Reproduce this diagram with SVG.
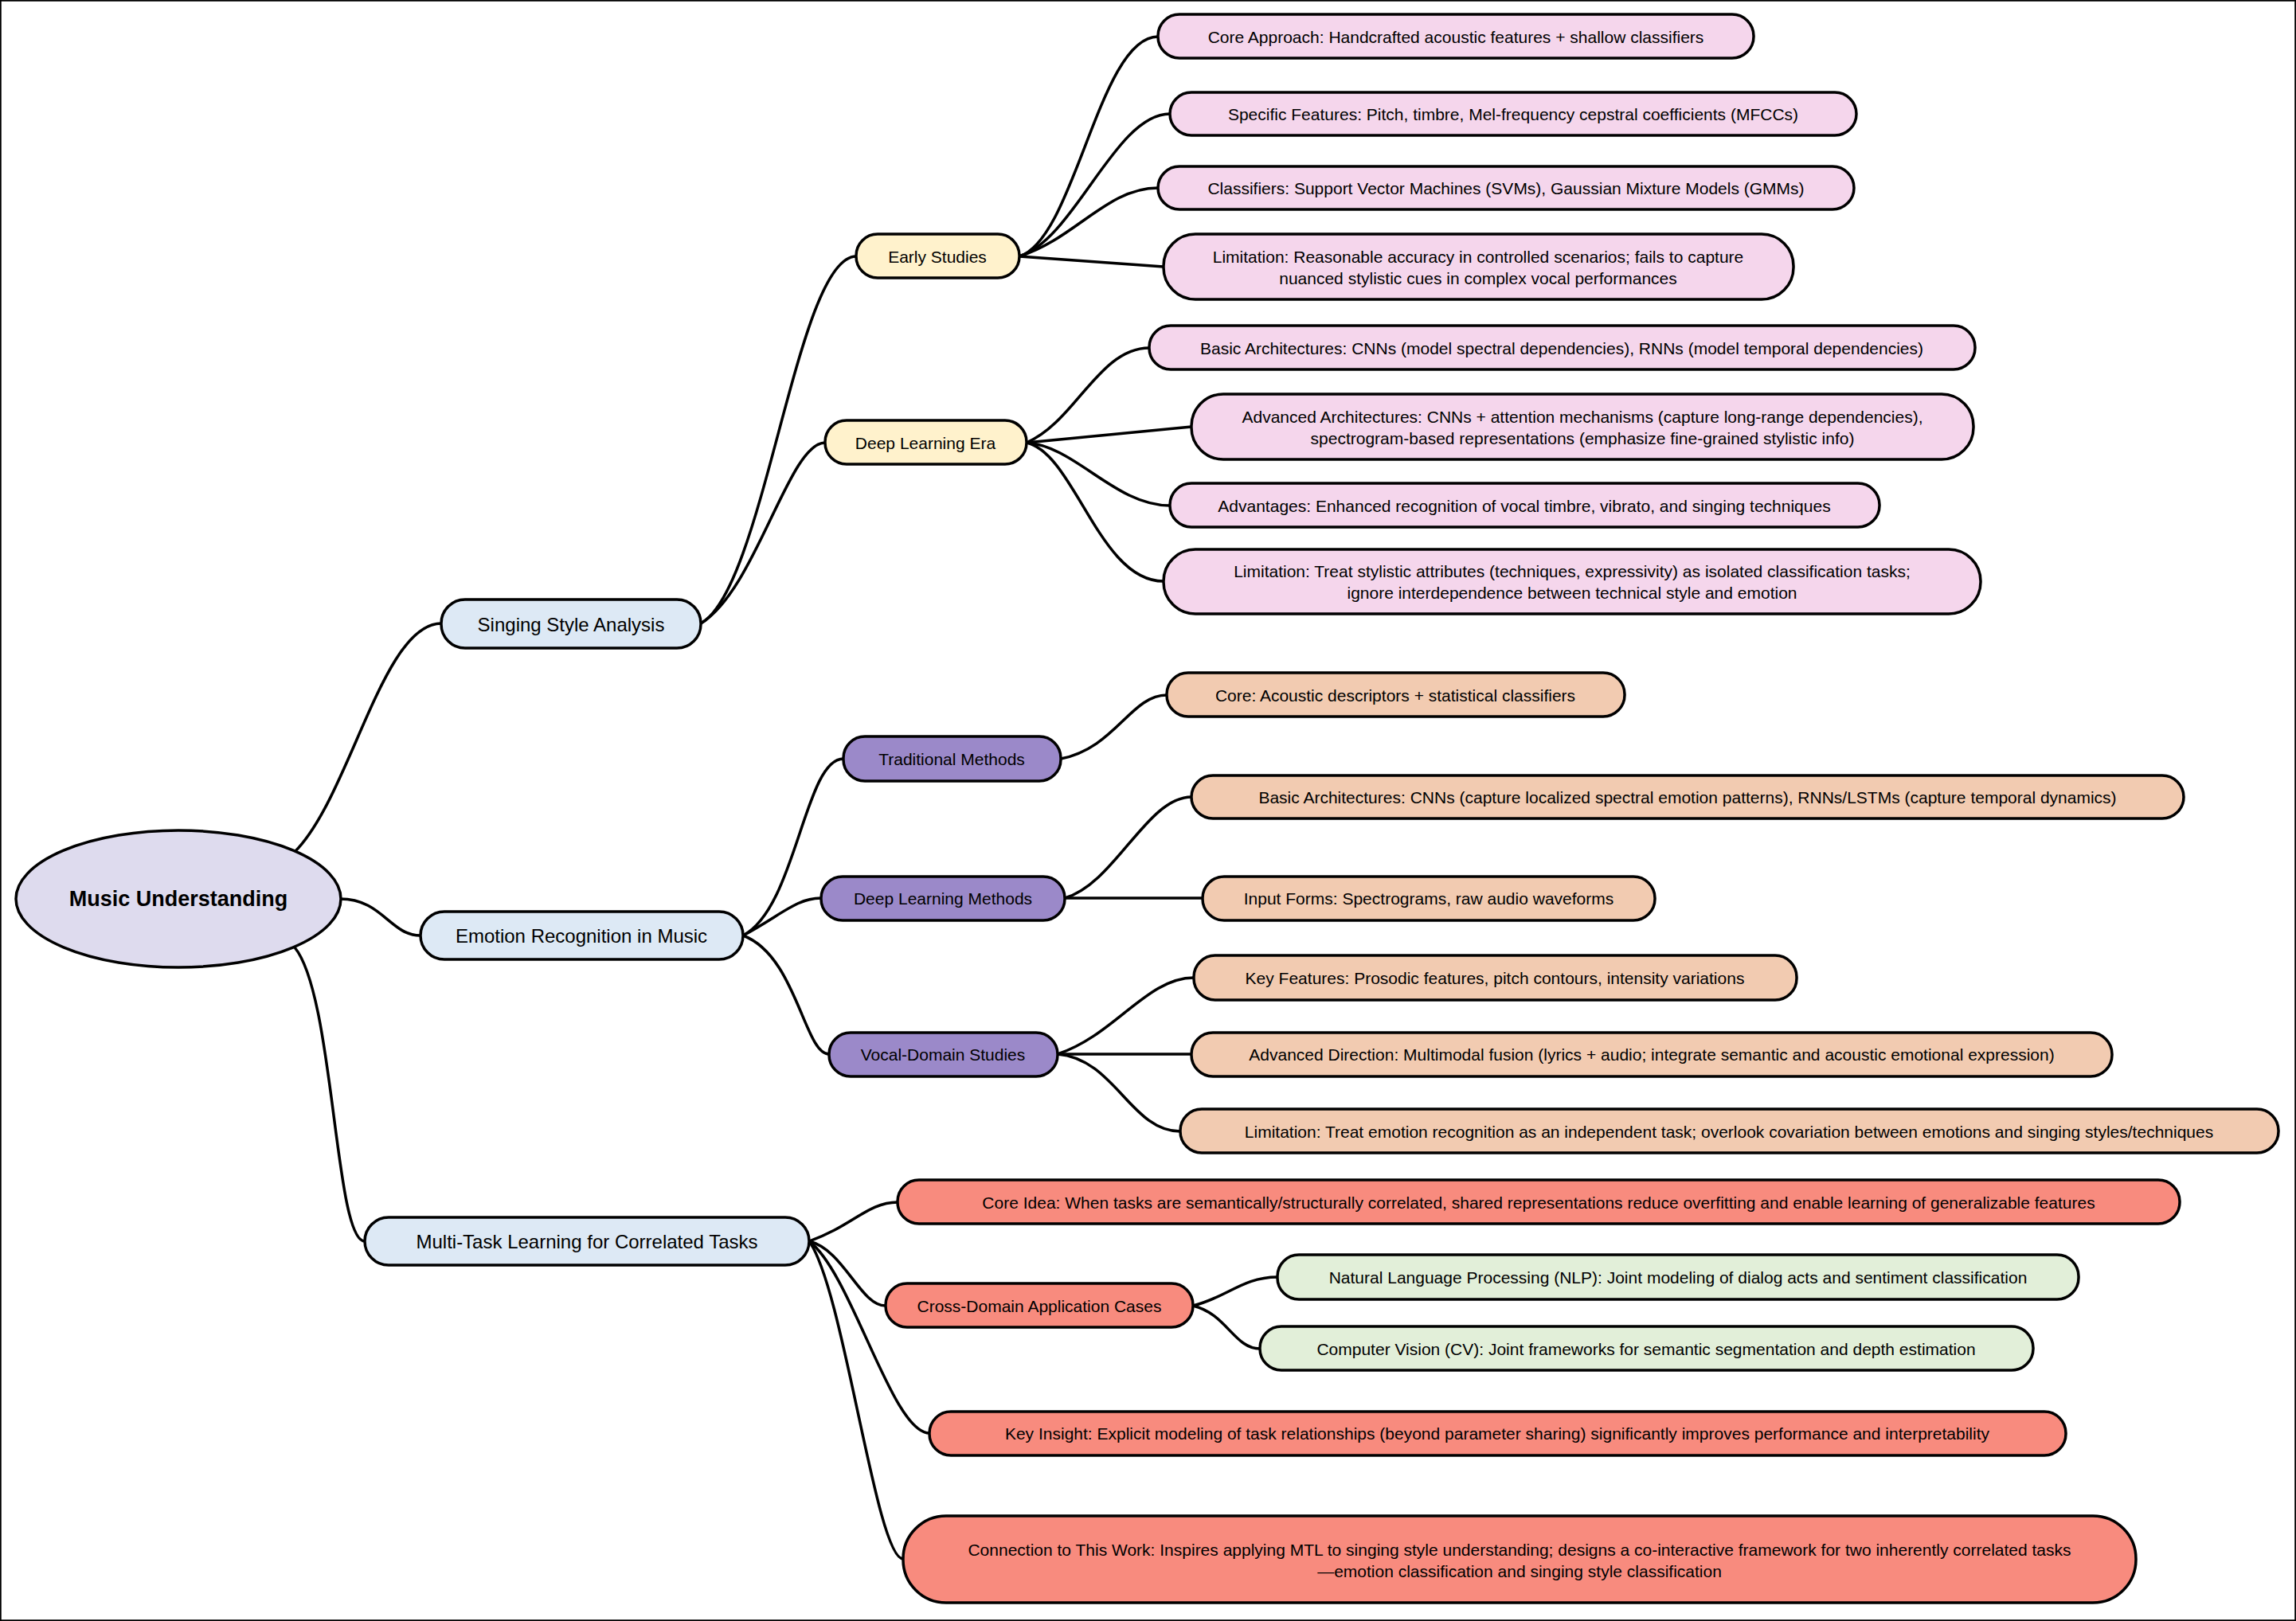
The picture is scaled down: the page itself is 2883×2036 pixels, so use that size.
<svg xmlns="http://www.w3.org/2000/svg" width="2883" height="2036" viewBox="0 0 2883 2036">
<style>
rect,ellipse{stroke:#000;stroke-width:3.5}
.e path{fill:none;stroke:#000;stroke-width:3.5}
text{font-family:"Liberation Sans",Arial,sans-serif;font-size:21px;text-anchor:middle;dominant-baseline:central;fill:#000}
.l1 text{font-size:24px}
.root{fill:#dedbee}.b{fill:#dde9f5}.y{fill:#fff2cc}.p{fill:#f5d6ec}.v{fill:#9b89c9}.o{fill:#f2cbb1}.r{fill:#f88b7e}.g{fill:#e2efd9}
</style>
<rect width="2883" height="2036" fill="#fff" stroke="none"/>
<g class="e">
<path d="M370 1070 C440 1000 480 783 554 783"/>
<path d="M427 1129 C480 1129 490 1175 528 1175"/>
<path d="M370 1190 C420 1250 420 1559 458 1559"/>
<path d="M880 783 C960 740 1000 322 1075 322"/>
<path d="M880 783 C950 740 990 556 1036 556"/>
<path d="M1280 322 C1350 300 1380 46 1454 46"/>
<path d="M1280 322 C1350 300 1400 143 1469 143"/>
<path d="M1280 322 C1350 300 1390 236 1454 236"/>
<path d="M1280 322 L1461 335"/>
<path d="M1289 556 C1350 530 1380 437 1443 437"/>
<path d="M1289 556 L1496 536"/>
<path d="M1289 556 C1350 560 1400 635 1469 635"/>
<path d="M1289 556 C1350 570 1380 730 1461 730"/>
<path d="M933 1175 C1000 1140 1010 953 1059 953"/>
<path d="M933 1175 C980 1150 1000 1128 1031 1128"/>
<path d="M933 1175 C1000 1200 1010 1324 1041 1324"/>
<path d="M1332 953 C1400 940 1420 873 1465 873"/>
<path d="M1337 1128 C1400 1110 1440 1001 1496 1001"/>
<path d="M1337 1128 L1510 1128"/>
<path d="M1328 1324 C1400 1300 1440 1228 1499 1228"/>
<path d="M1328 1324 L1496 1324"/>
<path d="M1328 1324 C1400 1330 1420 1421 1482 1421"/>
<path d="M1016 1559 C1070 1540 1090 1510 1127 1510"/>
<path d="M1016 1559 C1060 1570 1080 1640 1112 1640"/>
<path d="M1016 1559 C1070 1600 1120 1800 1167 1800"/>
<path d="M1016 1559 C1060 1620 1100 1958 1134 1958"/>
<path d="M1498 1640 C1540 1630 1560 1604 1604 1604"/>
<path d="M1498 1640 C1540 1650 1550 1694 1582 1694"/>
</g>
<g id="root"><ellipse class="root" cx="224" cy="1129" rx="204" ry="86"/><text x="224" y="1129" style="font-size:27px;font-weight:bold">Music Understanding</text></g>
<g id="n_ssa" class="l1"><rect class="b" x="554" y="753" width="326" height="61" rx="30"/><text x="717" y="784">Singing Style Analysis</text></g>
<g id="n_erm" class="l1"><rect class="b" x="528" y="1145" width="405" height="60" rx="30"/><text x="730" y="1175">Emotion Recognition in Music</text></g>
<g id="n_mtl" class="l1"><rect class="b" x="458" y="1529" width="558" height="60" rx="30"/><text x="737" y="1559">Multi-Task Learning for Correlated Tasks</text></g>
<g id="n_es"><rect class="y" x="1075" y="294" width="205" height="55" rx="27"/><text x="1177" y="322">Early Studies</text></g>
<g id="n_dle"><rect class="y" x="1036" y="528" width="253" height="55" rx="27"/><text x="1162" y="556">Deep Learning Era</text></g>
<g id="n_ca"><rect class="p" x="1454" y="18" width="748" height="55" rx="27"/><text x="1828" y="46">Core Approach: Handcrafted acoustic features + shallow classifiers</text></g>
<g id="n_sf"><rect class="p" x="1469" y="116" width="862" height="54" rx="27"/><text x="1900" y="143">Specific Features: Pitch, timbre, Mel-frequency cepstral coefficients (MFCCs)</text></g>
<g id="n_cl"><rect class="p" x="1454" y="209" width="874" height="54" rx="27"/><text x="1891" y="236">Classifiers: Support Vector Machines (SVMs), Gaussian Mixture Models (GMMs)</text></g>
<g id="n_lim1"><rect class="p" x="1461" y="294" width="791" height="82" rx="40"/><text x="1856" y="322">Limitation: Reasonable accuracy in controlled scenarios; fails to capture</text><text x="1856" y="349">nuanced stylistic cues in complex vocal performances</text></g>
<g id="n_ba1"><rect class="p" x="1443" y="409" width="1037" height="55" rx="27"/><text x="1961" y="437">Basic Architectures: CNNs (model spectral dependencies), RNNs (model temporal dependencies)</text></g>
<g id="n_aa"><rect class="p" x="1496" y="495" width="982" height="82" rx="40"/><text x="1987" y="523">Advanced Architectures: CNNs + attention mechanisms (capture long-range dependencies),</text><text x="1987" y="550">spectrogram-based representations (emphasize fine-grained stylistic info)</text></g>
<g id="n_adv"><rect class="p" x="1469" y="607" width="891" height="55" rx="27"/><text x="1914" y="635">Advantages: Enhanced recognition of vocal timbre, vibrato, and singing techniques</text></g>
<g id="n_lim2"><rect class="p" x="1461" y="690" width="1026" height="81" rx="40"/><text x="1974" y="717">Limitation: Treat stylistic attributes (techniques, expressivity) as isolated classification tasks;</text><text x="1974" y="744">ignore interdependence between technical style and emotion</text></g>
<g id="n_tm"><rect class="v" x="1059" y="925" width="273" height="56" rx="27"/><text x="1195" y="953">Traditional Methods</text></g>
<g id="n_dlm"><rect class="v" x="1031" y="1101" width="306" height="55" rx="27"/><text x="1184" y="1128">Deep Learning Methods</text></g>
<g id="n_vds"><rect class="v" x="1041" y="1297" width="287" height="55" rx="27"/><text x="1184" y="1324">Vocal-Domain Studies</text></g>
<g id="n_core"><rect class="o" x="1465" y="845" width="575" height="55" rx="27"/><text x="1752" y="873">Core: Acoustic descriptors + statistical classifiers</text></g>
<g id="n_ba2"><rect class="o" x="1496" y="974" width="1246" height="54" rx="27"/><text x="2119" y="1001">Basic Architectures: CNNs (capture localized spectral emotion patterns), RNNs/LSTMs (capture temporal dynamics)</text></g>
<g id="n_if"><rect class="o" x="1510" y="1101" width="568" height="55" rx="27"/><text x="1794" y="1128">Input Forms: Spectrograms, raw audio waveforms</text></g>
<g id="n_kf"><rect class="o" x="1499" y="1200" width="757" height="56" rx="27"/><text x="1877" y="1228">Key Features: Prosodic features, pitch contours, intensity variations</text></g>
<g id="n_ad"><rect class="o" x="1496" y="1297" width="1156" height="55" rx="27"/><text x="2074" y="1324">Advanced Direction: Multimodal fusion (lyrics + audio; integrate semantic and acoustic emotional expression)</text></g>
<g id="n_lim3"><rect class="o" x="1482" y="1393" width="1379" height="55" rx="27"/><text x="2171" y="1421">Limitation: Treat emotion recognition as an independent task; overlook covariation between emotions and singing styles/techniques</text></g>
<g id="n_ci"><rect class="r" x="1127" y="1482" width="1610" height="55" rx="27"/><text x="1932" y="1510">Core Idea: When tasks are semantically/structurally correlated, shared representations reduce overfitting and enable learning of generalizable features</text></g>
<g id="n_cd"><rect class="r" x="1112" y="1612" width="386" height="55" rx="27"/><text x="1305" y="1640">Cross-Domain Application Cases</text></g>
<g id="n_nlp"><rect class="g" x="1604" y="1576" width="1006" height="56" rx="27"/><text x="2107" y="1604">Natural Language Processing (NLP): Joint modeling of dialog acts and sentiment classification</text></g>
<g id="n_cv"><rect class="g" x="1582" y="1666" width="971" height="55" rx="27"/><text x="2067" y="1694">Computer Vision (CV): Joint frameworks for semantic segmentation and depth estimation</text></g>
<g id="n_ki"><rect class="r" x="1167" y="1773" width="1427" height="55" rx="27"/><text x="1880" y="1800">Key Insight: Explicit modeling of task relationships (beyond parameter sharing) significantly improves performance and interpretability</text></g>
<g id="n_conn"><rect class="r" x="1134" y="1904" width="1548" height="109" rx="54"/><text x="1908" y="1946">Connection to This Work: Inspires applying MTL to singing style understanding; designs a co-interactive framework for two inherently correlated tasks</text><text x="1908" y="1973">—emotion classification and singing style classification</text></g>
</svg>
